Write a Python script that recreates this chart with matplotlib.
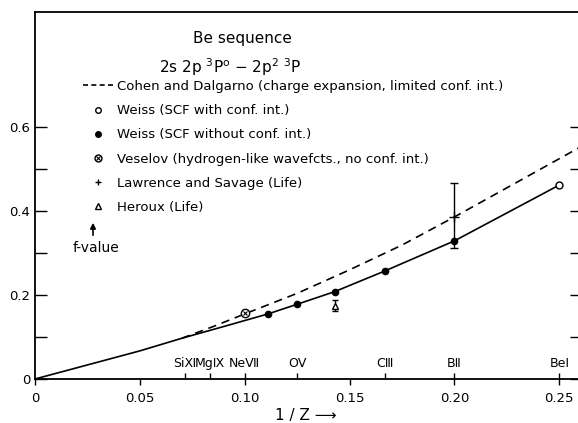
import matplotlib
matplotlib.use("Agg")
import matplotlib.pyplot as plt
import matplotlib.transforms as mtransforms
from matplotlib.lines import Line2D

# Be sequence, 2s2p 3P° - 2p2 3P, f-values against 1/Z
weiss_curve_x = [0, 0.05, 0.07, 0.09, 1/9, 1/8, 1/7, 1/6, 1/5, 1/4]
weiss_curve_f = [0, 0.067, 0.097, 0.125, 0.155, 0.178, 0.208, 0.257, 0.329, 0.462]

weiss_nci_x = [1/9, 1/8, 1/7, 1/6, 1/5]
weiss_nci_f = [0.155, 0.178, 0.208, 0.257, 0.329]

weiss_ci_x = [1/4]
weiss_ci_f = [0.462]

cohen_x = [0.07, 0.085, 0.10, 0.125, 0.15, 0.175, 0.20, 0.262]
cohen_f = [0.097, 0.125, 0.155, 0.204, 0.26, 0.319, 0.386, 0.558]

veselov_x = [0.10]
veselov_f = [0.157]

lawrence_x = [0.20]
lawrence_f = [0.386]
lawrence_lo = [0.311]
lawrence_hi = [0.466]

heroux_x = [1/7]
heroux_f = [0.175]
heroux_lo = [0.161]
heroux_hi = [0.189]

ions = ["Si\u216A", "Mg\u2168", "Ne\u2166", "O\u2164", "C\u2162", "B\u2161", "Be\u2160"]
ion_z = [14, 12, 10, 8, 6, 5, 4]

xticks = [0, 0.05, 0.10, 0.15, 0.20, 0.25]
xticklabels = ["0", "0.05", "0.10", "0.15", "0.20", "0.25"]
yticks = [0, 0.2, 0.4, 0.6]
yticklabels = ["0", "0.2", "0.4", "0.6"]
yminor = [0.1, 0.3, 0.5]

W, H = 578, 423
fig = plt.figure(figsize=(W / 100, H / 100), dpi=100)
ax = fig.add_axes([35 / W, 44 / H, 547 / W, 367 / H])

lw = 1.2
ax.plot(weiss_curve_x, weiss_curve_f, color="black", lw=lw)
ax.plot(cohen_x, cohen_f, color="black", lw=lw, dashes=(5, 3.5))
ax.plot(weiss_nci_x, weiss_nci_f, "o", color="black", ms=4.5)
ax.plot(weiss_ci_x, weiss_ci_f, "o", mfc="white", mec="black", mew=1, ms=5)
ax.plot(veselov_x, veselov_f, "o", mfc="white", mec="black", mew=1, ms=6)
ax.plot(veselov_x, veselov_f, "x", color="black", mew=0.8, ms=3.5)

law_err = [[f - lo for f, lo in zip(lawrence_f, lawrence_lo)],
           [hi - f for f, hi in zip(lawrence_f, lawrence_hi)]]
ax.errorbar(lawrence_x, lawrence_f, yerr=law_err, fmt="+", color="black",
            ms=7, mew=1, elinewidth=1, capsize=3, capthick=1)
her_err = [[f - lo for f, lo in zip(heroux_f, heroux_lo)],
           [hi - f for f, hi in zip(heroux_f, heroux_hi)]]
ax.errorbar(heroux_x, heroux_f, yerr=her_err, fmt="^", mfc="white", mec="black",
            color="black", ms=5, mew=1, elinewidth=1, capsize=2.5, capthick=1)

ax.set_xlim(0, 0.2608)
ax.set_ylim(0, 0.874)

for s in ax.spines.values():
    s.set_linewidth(1.3)

ax.set_xticks(xticks)
ax.set_xticklabels(xticklabels, fontsize=9.5)
ion_x = [1 / z for z in ion_z]
ax.set_xticks(ion_x, minor=True)
ax.xaxis.remove_overlapping_locs = False
ax.tick_params(axis="x", which="major", direction="out", length=4, width=1, pad=5)
ax.tick_params(axis="x", which="minor", direction="in", length=4.5, width=1)

ax.set_yticks(yticks)
ax.set_yticklabels(yticklabels, fontsize=9.5)
ax.set_yticks(yminor, minor=True)
ax.tick_params(axis="y", which="both", direction="in", length=8.5, width=1,
               left=True, right=True, pad=3.5)

trans = mtransforms.blended_transform_factory(ax.transData, ax.transAxes)
for name, x in zip(ions, ion_x):
    ax.text(x, 0.043, name, transform=trans, ha="center", va="center", fontsize=9)

fig.text(242 / W, 1 - 38 / H, "Be sequence", ha="center", va="center", fontsize=11)
fig.text(230 / W, 1 - 67 / H, r"2s 2p $^3$P$^{\rm o}$ $-$ 2p$^2$ $^3$P",
         ha="center", va="center", fontsize=11)

ves_handle = (Line2D([], [], ls="none", marker="o", mfc="white", mec="black", ms=5),
              Line2D([], [], ls="none", marker="x", color="black", ms=3, mew=0.8))
handles = [
    Line2D([], [], color="black", lw=lw, dashes=(3, 2)),
    Line2D([], [], ls="none", marker="o", mfc="white", mec="black", ms=4),
    Line2D([], [], ls="none", marker="o", color="black", ms=4),
    ves_handle,
    Line2D([], [], ls="none", marker="+", color="black", ms=5),
    Line2D([], [], ls="none", marker="^", mfc="white", mec="black", ms=4),
]
labels = [
    "Cohen and Dalgarno (charge expansion, limited conf. int.)",
    "Weiss (SCF with conf. int.)",
    "Weiss (SCF without conf. int.)",
    "Veselov (hydrogen-like wavefcts., no conf. int.)",
    "Lawrence and Savage (Life)",
    "Heroux (Life)",
]
fig.legend(handles, labels, loc="upper left", bbox_to_anchor=(83 / W, 1 - 80 / H),
           frameon=False, fontsize=9.5, handlelength=2.3, handletextpad=0.3,
           labelspacing=0.85, borderpad=0, borderaxespad=0)

fig.text(96 / W, 1 - 248 / H, "f-value", ha="center", va="center", fontsize=10)
ax.annotate("", xy=(93, H - 220), xytext=(93, H - 238), xycoords="figure pixels",
            textcoords="figure pixels",
            arrowprops=dict(arrowstyle="-|>", color="black", lw=1.2, mutation_scale=8))

fig.text(306 / W, 1 - 415 / H, "1 / Z \u27F6", ha="center", va="center", fontsize=11)

fig.savefig("out.png", dpi=100)
